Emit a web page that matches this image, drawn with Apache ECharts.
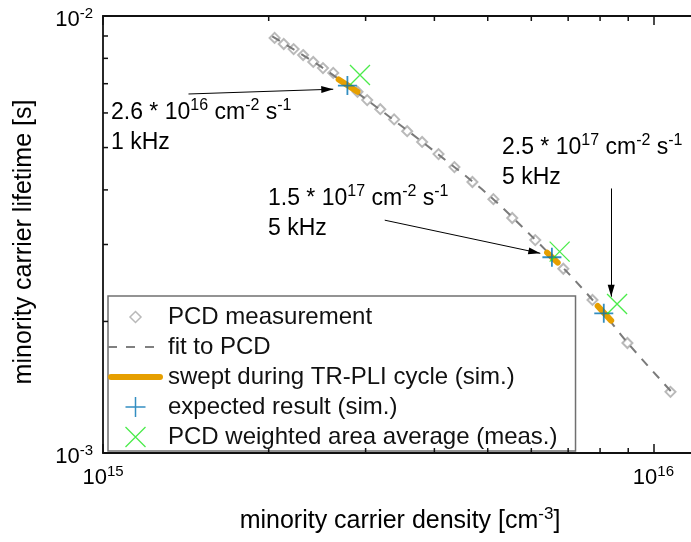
<!DOCTYPE html>
<html>
<head>
<meta charset="utf-8">
<script src="https://cdn.jsdelivr.net/npm/echarts@6/dist/echarts.min.js"></script>
<style>
  html, body { margin: 0; padding: 0; background: #fff; }
  #main { width: 691px; height: 542px; }
</style>
</head>
<body>
<div id="main"></div>
<script>
// PCD measurement: density [cm^-3], lifetime [s]
var pcdDensity = [2.05e15, 2.13e15, 2.22e15, 2.31e15, 2.41e15, 2.51e15, 2.62e15, 2.90e15, 3.02e15, 3.19e15, 3.38e15, 3.57e15,
  3.80e15, 4.07e15, 4.35e15, 4.69e15, 5.12e15, 5.54e15, 6.10e15, 6.86e15, 7.75e15, 8.97e15, 1.074e16]
var pcdLifetime = [8.91e-3, 8.63e-3, 8.40e-3, 8.14e-3, 7.85e-3, 7.60e-3, 7.41e-3, 6.71e-3, 6.42e-3, 6.12e-3, 5.80e-3, 5.45e-3,
  5.15e-3, 4.83e-3, 4.51e-3, 4.17e-3, 3.81e-3, 3.45e-3, 3.07e-3, 2.64e-3, 2.24e-3, 1.785e-3, 1.38e-3]

// fit to PCD
var fitDensity = [2.03e15, 2.5e15, 3e15, 3.5e15, 4e15, 5e15, 6e15, 7e15, 8e15, 9e15, 1.09e16]
var fitLifetime = [8.98e-3, 7.63e-3, 6.46e-3, 5.58e-3, 4.90e-3, 3.91e-3, 3.14e-3, 2.58e-3, 2.14e-3, 1.78e-3, 1.36e-3]

// swept during TR-PLI cycle (three short segments)
var sweptDensity = [[2.68e15, 2.90e15], [6.41e15, 6.70e15], [7.92e15, 8.38e15]]
var sweptLifetime = [[7.16e-3, 6.71e-3], [2.874e-3, 2.727e-3], [2.17e-3, 2.009e-3]]

// expected result (sim.)
var expDensity = [2.78e15, 6.54e15, 8.125e15]
var expLifetime = [6.93e-3, 2.805e-3, 2.088e-3]

// PCD weighted area average (meas.)
var avgDensity = [2.93e15, 6.755e15, 8.59e15]
var avgLifetime = [7.33e-3, 2.89e-3, 2.193e-3]

// annotation arrows (from -> tip), data units
var arrowFrom = [[1.43e15, 6.63e-3], [3.25e15, 3.41e-3], [8.38e15, 4.03e-3]]
var arrowTo = [[2.62e15, 6.80e-3], [6.23e15, 2.864e-3], [8.38e15, 2.279e-3]]

var annText = [
  '{b|2.6 * 10}{s|16}{b| cm}{s|-2}{b| s}{s|-1}\n{b|1 kHz}',
  '{b|1.5 * 10}{s|17}{b| cm}{s|-2}{b| s}{s|-1}\n{b|5 kHz}',
  '{b|2.5 * 10}{s|17}{b| cm}{s|-2}{b| s}{s|-1}\n{b|5 kHz}'
]
var annLeft = [111, 268, 502]
var annTop = [98, 184, 133]

// axis range and minor ticks
var xMin = 1e15, xMax = 1.2e16
var yMin = 1e-3, yMax = 1e-2
var xMinorTicks = [2e15, 3e15, 4e15, 5e15, 6e15, 7e15, 8e15, 9e15]
var yMinorTicks = [2e-3, 3e-3, 4e-3, 5e-3, 6e-3, 7e-3, 8e-3, 9e-3]

var names = ['PCD measurement', 'fit to PCD', 'swept during TR-PLI cycle (sim.)', 'expected result (sim.)', 'PCD weighted area average (meas.)']

var FONT = 'Liberation Sans, Arial, sans-serif'
var BLUE = '#0072B2'
var GREEN = '#1ee61e'
var ORANGE = '#e69f00'

function zip(a, b) {
  return a.map(function (v, i) { return [v, b[i]] })
}

function powLabel(v) {
  var l = Math.log10(v)
  var e = Math.round(l)
  if (Math.abs(l - e) > 1e-6) return ''
  return '{b|10}{s|' + e + '}'
}

var labelRich = {
  b: { fontSize: 22, lineHeight: 28, fontFamily: FONT, color: '#000' },
  s: { fontSize: 15, lineHeight: 15, fontFamily: FONT, color: '#000', verticalAlign: 'top' }
}
var nameRich = {
  b: { fontSize: 25, lineHeight: 30, fontFamily: FONT, color: '#000' },
  s: { fontSize: 17, lineHeight: 16, fontFamily: FONT, color: '#000', verticalAlign: 'top' }
}
var annRich = {
  b: { fontSize: 23, lineHeight: 30, fontFamily: FONT, fill: '#000' },
  s: { fontSize: 16, lineHeight: 15, fontFamily: FONT, fill: '#000', verticalAlign: 'top' }
}

var tickData = xMinorTicks.map(function (v) { return [v, yMin, 0] })
  .concat(yMinorTicks.map(function (v) { return [xMin, v, 1] }))

var axisLine = { show: true, lineStyle: { color: '#111', width: 1.8 } }
var axisTick = { show: true, inside: true, length: 9, lineStyle: { color: '#111', width: 1.5 } }

var myChart = echarts.init(document.getElementById('main'))

var sweptSeries = sweptDensity.map(function (xs, i) {
  return {
    name: names[2],
    type: 'line',
    symbol: 'none',
    data: zip(xs, sweptLifetime[i]),
    lineStyle: { color: ORANGE, width: 6, cap: 'round' },
    itemStyle: { color: ORANGE },
    z: 3
  }
})

var option = {
  animation: false,
  backgroundColor: '#fff',
  grid: { left: 103, top: 16, right: -6, bottom: 89, outerBoundsMode: 'none' },
  legend: {
    orient: 'vertical',
    left: 108,
    top: 296,
    itemWidth: 55,
    itemHeight: 20,
    itemGap: 6,
    padding: [9, 18, 2, 0],
    borderColor: '#707070',
    borderWidth: 1.5,
    backgroundColor: '#fff',
    selectedMode: false,
    textStyle: { fontSize: 24, lineHeight: 24, fontFamily: FONT, color: '#111' },
    data: [
      { name: names[0], icon: 'path://M-10,-10M10,10M0,-5.5L5.5,0L0,5.5L-5.5,0Z',
        itemStyle: { color: '#fff', borderColor: '#a8a8a8', borderWidth: 1.5 } },
      { name: names[1], icon: 'path://M0,0M55,20M0,9h9v2h-9zM18,9h9v2h-9zM37,9h9v2h-9z',
        itemStyle: { color: '#808080', borderWidth: 0 } },
      { name: names[2], icon: 'path://M0,0M55,20M3,7h49a3,3 0 0 1 0,6h-49a3,3 0 0 1 0,-6z',
        itemStyle: { color: ORANGE, borderWidth: 0 } },
      { name: names[3], icon: 'path://M0,-10L0,10M-10,0L10,0',
        itemStyle: { color: 'rgba(0,0,0,0)', borderColor: BLUE, borderWidth: 1.5 } },
      { name: names[4], icon: 'path://M-10,-10L10,10M-10,10L10,-10',
        itemStyle: { color: 'rgba(0,0,0,0)', borderColor: GREEN, borderWidth: 1.3 } }
    ]
  },
  xAxis: [
    {
      type: 'log', logBase: 10, min: xMin, max: xMax, position: 'bottom',
      name: '{b|minority carrier density [cm}{s|-3}{b|]}',
      nameLocation: 'middle', nameGap: 53, nameMoveOverlap: false,
      nameTextStyle: { rich: nameRich },
      axisLine: axisLine, axisTick: axisTick, splitLine: { show: false },
      axisLabel: { formatter: powLabel, rich: labelRich, margin: 11, showMaxLabel: true }
    },
    {
      type: 'log', logBase: 10, min: xMin, max: xMax, position: 'top',
      axisLine: axisLine, axisTick: axisTick, splitLine: { show: false },
      axisLabel: { show: false }
    }
  ],
  yAxis: [
    {
      type: 'log', logBase: 10, min: yMin, max: yMax,
      name: '{b|minority carrier lifetime [s]}',
      nameLocation: 'middle', nameGap: 64, nameMoveOverlap: false,
      nameTextStyle: { rich: nameRich, padding: [0, 15, 0, 0] },
      axisLine: axisLine, axisTick: axisTick, splitLine: { show: false },
      axisLabel: { formatter: powLabel, rich: labelRich, margin: 10, padding: [8, 0, 0, 0] }
    }
  ],
  graphic: annText.map(function (t, i) {
    return {
      type: 'text', left: annLeft[i], top: annTop[i], silent: true, z: 50,
      style: { text: t, rich: annRich, fill: '#000', fontFamily: FONT, fontSize: 23 }
    }
  }),
  series: [
    {
      name: names[0],
      type: 'scatter',
      symbol: 'emptyDiamond',
      symbolSize: 10,
      data: zip(pcdDensity, pcdLifetime),
      itemStyle: { color: '#a8a8a8', borderColor: '#a8a8a8', borderWidth: 1.6 },
      z: 2
    },
    {
      name: names[1],
      type: 'line',
      symbol: 'none',
      smooth: 0.3,
      data: zip(fitDensity, fitLifetime),
      lineStyle: { color: '#7a7a7a', width: 2, type: [9, 8] },
      itemStyle: { color: '#7a7a7a' },
      z: 3
    }
  ].concat(sweptSeries).concat([
    {
      name: names[3],
      type: 'scatter',
      symbol: 'path://M0,-10L0,10M-10,0L10,0',
      symbolSize: 19,
      data: zip(expDensity, expLifetime),
      itemStyle: { color: 'rgba(0,0,0,0)', borderColor: BLUE, borderWidth: 1.8 },
      z: 4,
      markLine: {
        silent: true,
        symbol: ['none', 'triangle'],
        symbolSize: [7, 12],
        symbolOffset: [[0, 0], [0, 6]],
        label: { show: false },
        lineStyle: { color: '#000', width: 1, type: 'solid' },
        itemStyle: { color: '#000' },
        emphasis: { disabled: true },
        data: arrowFrom.map(function (p, i) {
          return [{ coord: p }, { coord: arrowTo[i] }]
        })
      }
    },
    {
      name: names[4],
      type: 'scatter',
      symbol: 'path://M-10,-10L10,10M-10,10L10,-10',
      symbolSize: 20,
      data: zip(avgDensity, avgLifetime),
      itemStyle: { color: 'rgba(0,0,0,0)', borderColor: GREEN, borderWidth: 1.3 },
      z: 5
    },
    {
      // minor ticks of the log axes
      type: 'custom',
      coordinateSystem: 'cartesian2d',
      silent: true,
      clip: false,
      z: 6,
      data: tickData,
      renderItem: function (params, api) {
        var st = { stroke: '#111', lineWidth: 1.5 }
        if (api.value(2) === 0) {
          var b = api.coord([api.value(0), yMin])
          var t = api.coord([api.value(0), yMax])
          return { type: 'group', children: [
            { type: 'line', shape: { x1: b[0], y1: b[1], x2: b[0], y2: b[1] - 5 }, style: st },
            { type: 'line', shape: { x1: t[0], y1: t[1], x2: t[0], y2: t[1] + 5 }, style: st }
          ] }
        }
        var l = api.coord([xMin, api.value(1)])
        return { type: 'line', shape: { x1: l[0], y1: l[1], x2: l[0] + 5, y2: l[1] }, style: st }
      }
    }
  ])
}

myChart.setOption(option)
</script>
</body>
</html>
